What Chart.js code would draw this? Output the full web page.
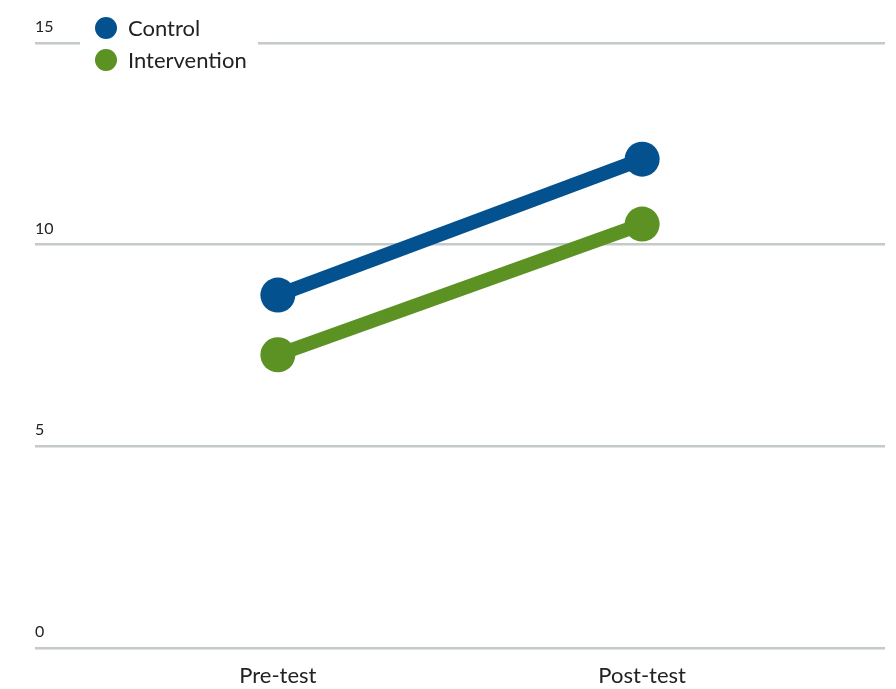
<!DOCTYPE html>
<html>
<head>
<meta charset="utf-8">
<script src="https://cdn.jsdelivr.net/npm/chart.js@4.4.1/dist/chart.umd.min.js"></script>
<style>
  html, body { margin: 0; padding: 0; background: #ffffff; }
  #wrap { width: 896px; height: 689px; position: relative; }
</style>
</head>
<body>
<div id="wrap"><canvas id="c" width="896" height="689"></canvas></div>
<script>
const categories = ['Pre-test', 'Post-test'];
const controlValues = [8.75, 12.12];
const interventionValues = [7.27, 10.51];
const seriesNames = ['Control', 'Intervention'];
const seriesColors = ['#03528f', '#5b9223'];
const yTickValues = [0, 5, 10, 15];

const FONT = 'Lato, "Open Sans", sans-serif';

function toPoints(vals) {
  return vals.map((v, i) => ({ x: i, y: v }));
}

const legendPlugin = {
  id: 'customLegend',
  afterDraw(chart) {
    const ctx = chart.ctx;
    ctx.save();
    ctx.fillStyle = '#ffffff';
    ctx.fillRect(80, 10, 178, 66);
    chart.data.datasets.forEach((ds, i) => {
      const cy = 28 + i * 32;
      ctx.beginPath();
      ctx.fillStyle = ds.borderColor;
      ctx.arc(106, cy, 11, 0, Math.PI * 2);
      ctx.fill();
      ctx.fillStyle = '#222222';
      ctx.font = '22px ' + FONT;
      ctx.textBaseline = 'middle';
      ctx.textAlign = 'left';
      ctx.fillText(ds.label, 128, cy + 1);
    });
    ctx.restore();
  }
};

new Chart(document.getElementById('c'), {
  type: 'line',
  data: {
    datasets: [
      {
        label: seriesNames[0],
        data: toPoints(controlValues),
        borderColor: seriesColors[0],
        backgroundColor: seriesColors[0],
        borderWidth: 14,
        pointRadius: 17.5,
        pointHoverRadius: 17.5,
        pointBorderWidth: 0,
        fill: false,
        clip: false
      },
      {
        label: seriesNames[1],
        data: toPoints(interventionValues),
        borderColor: seriesColors[1],
        backgroundColor: seriesColors[1],
        borderWidth: 14,
        pointRadius: 17.5,
        pointHoverRadius: 17.5,
        pointBorderWidth: 0,
        fill: false,
        clip: false
      }
    ]
  },
  options: {
    responsive: false,
    animation: false,
    events: [],
    layout: { autoPadding: false, padding: { left: 35, right: 11, top: 43, bottom: 1 } },
    plugins: { legend: { display: false }, tooltip: { enabled: false } },
    scales: {
      x: {
        type: 'linear',
        min: -2 / 3,
        max: 5 / 3,
        afterBuildTicks(axis) {
          axis.ticks = categories.map((c, i) => ({ value: i }));
        },
        afterFit(axis) {
          axis.height = 40;
        },
        ticks: {
          callback: (v) => categories[v] ?? '',
          font: { family: FONT, size: 22 },
          color: '#222222',
          padding: 15,
          maxRotation: 0,
          autoSkip: false
        },
        grid: { display: false, drawTicks: false },
        border: { display: false }
      },
      y: {
        min: 0,
        max: 15,
        afterBuildTicks(axis) {
          axis.ticks = yTickValues.map(v => ({ value: v }));
        },
        ticks: {
          mirror: true,
          padding: 0,
          labelOffset: -16,
          font: { family: FONT, size: 16 },
          color: '#222222'
        },
        grid: { color: '#c3cac8', lineWidth: 2.5, drawTicks: false },
        border: { display: false }
      }
    }
  },
  plugins: [legendPlugin]
});
</script>
</body>
</html>
